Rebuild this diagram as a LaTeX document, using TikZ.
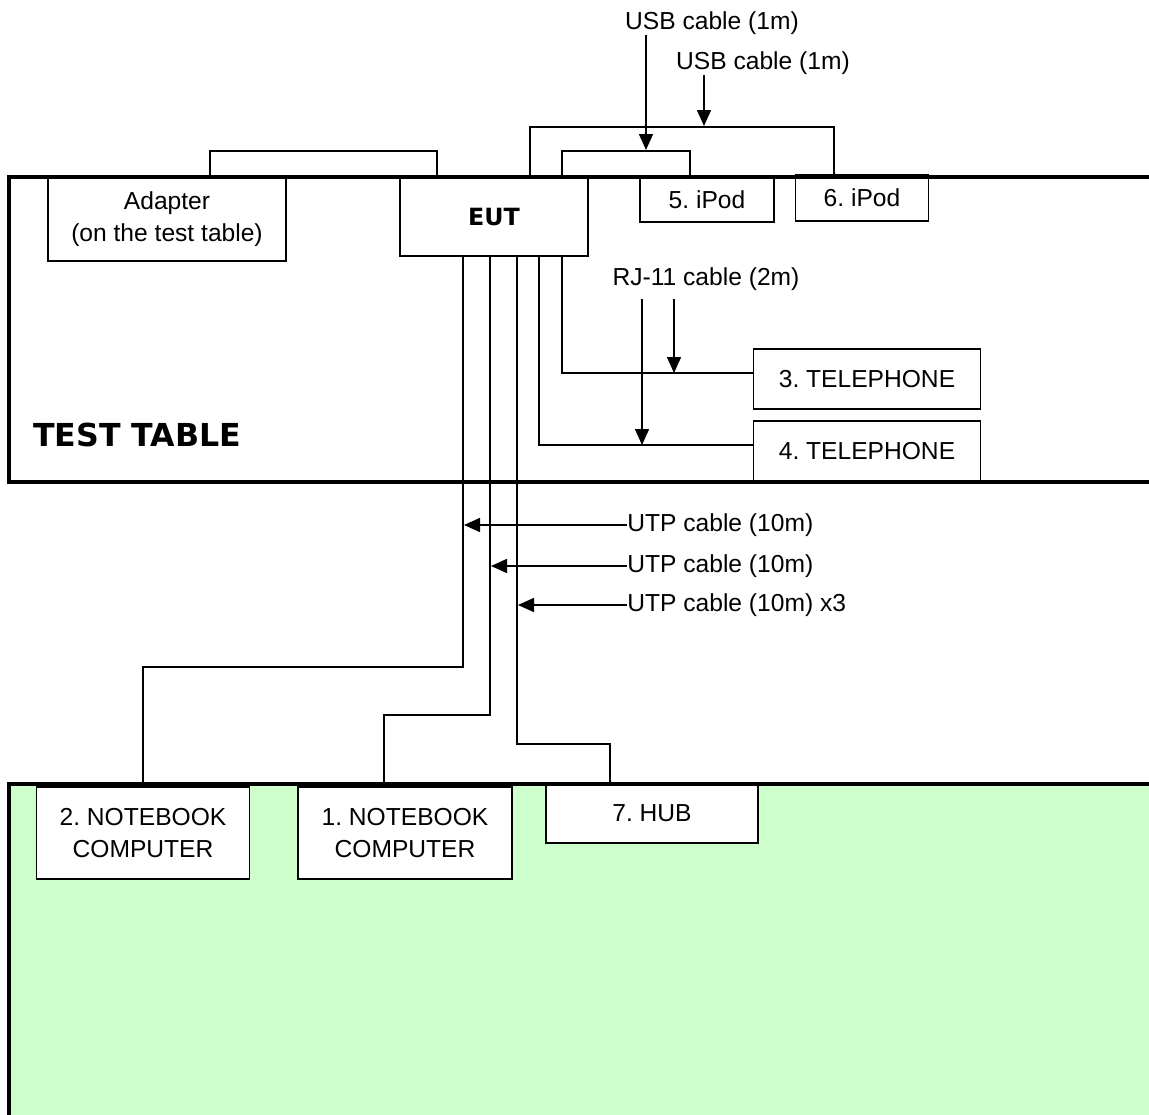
\documentclass[tikz,border=0pt]{standalone}
\usepackage{fontspec}
\setmainfont{Liberation Sans}
\newfontfamily\verdana{DejaVu Sans}
\usetikzlibrary{arrows.meta}
\frenchspacing
\definecolor{tablegreen}{HTML}{CCFFCC}
\tikzstyle{dev}=[draw=black,line width=1pt,fill=white,align=center,inner sep=0pt,font=\fontsize{14}{18}\selectfont]
\tikzstyle{lbl}=[inner sep=0pt,font=\fontsize{14}{18}\selectfont]
\tikzstyle{tbl}=[line width=2.4pt]
\tikzstyle{cable}=[line width=.9pt]
\tikzstyle{arr}=[line width=.9pt,-{Triangle[length=.32cm,width=.28cm]}]

\begin{document}
\begin{tikzpicture}[x=.02cm,y=-.02cm]
\useasboundingbox (0,0) rectangle (1149,1115);
\fill[tablegreen] (9,784) rectangle (1149,1115);
\node[dev,minimum width=4.76cm,minimum height=1.68cm] (adapter) at (167,219) {Adapter\\(on the test table)};
\node[dev,minimum width=3.76cm,minimum height=1.56cm,font=\verdana\bfseries\fontsize{13.5}{16}\selectfont] (eut) at (494,217) {EUT};
\node[dev,minimum width=2.68cm,minimum height=.88cm] (ipod5) at (707,200) {5. iPod};
\node[dev,minimum width=2.66cm,minimum height=.92cm] (ipod6) at (862,198) {6. iPod};
\node[dev,minimum width=4.54cm,minimum height=1.2cm] (tel3) at (867,379) {3. TELEPHONE};
\node[dev,minimum width=4.54cm,minimum height=1.2cm] (tel4) at (867,451) {4. TELEPHONE};
\node[dev,minimum width=4.26cm,minimum height=1.84cm] (nb2) at (143,833) {2. NOTEBOOK\\COMPUTER};
\node[dev,minimum width=4.28cm,minimum height=1.84cm] (nb1) at (405,833) {1. NOTEBOOK\\COMPUTER};
\node[dev,minimum width=4.24cm,minimum height=1.2cm] (hub) at (652,813) {7. HUB};
\draw[tbl] (1149,177) -- (9,177) -- (9,482) -- (1149,482);
\draw[tbl] (9,1115) -- (9,784) -- (1149,784);
\node[anchor=west,inner sep=0pt,font=\verdana\bfseries\fontsize{18}{22}\selectfont] (testtable) at (33,435) {TEST TABLE};
\draw[cable] (adapter.north -| 210,0) -- (210,151) -- (437,151) -- (eut.north -| 437,0);
\draw[cable] (eut.north -| 562,0) -- (562,151) -- (690,151) -- (ipod5.north -| 690,0);
\draw[cable] (eut.north -| 530,0) -- (530,127) -- (834,127) -- (ipod6.north -| 834,0);
\draw[cable] (eut.south -| 562,0) |- ([yshift=.12cm]tel3.west);
\draw[cable] (eut.south -| 539,0) |- ([yshift=.12cm]tel4.west);
\draw[cable] (eut.south -| 463,0) -- (463,667) -| (nb2.north);
\draw[cable] (eut.south -| 490,0) -- (490,715) -| (nb1.north -| 384,0);
\draw[cable] (eut.south -| 517,0) -- (517,744) -| (hub.north -| 610,0);
\node[lbl] (usb5) at (712,23) {USB cable (1m)};
\node[lbl] (usb6) at (763,63) {USB cable (1m)};
\node[lbl] (rj) at (706,279) {RJ-11 cable (2m)};
\node[lbl,anchor=west] (utp2) at (627,525) {UTP cable (10m)};
\node[lbl,anchor=west] (utp1) at (627,566) {UTP cable (10m)};
\node[lbl,anchor=west] (utphub) at (627,605) {UTP cable (10m) x3};
\draw[arr] (usb5.south -| 646,0) -- (646,150);
\draw[arr] (usb6.south -| 704,0) -- (704,126);
\draw[arr,shorten <=.16cm] (rj.south -| 674,0) -- (674,373);
\draw[arr,shorten <=.16cm] (rj.south -| 642,0) -- (642,445);
\draw[arr] (utp2.west) -- (utp2.west -| 464,0);
\draw[arr] (utp1.west) -- (utp1.west -| 491,0);
\draw[arr] (utphub.west) -- (utphub.west -| 518,0);
\end{tikzpicture}
\end{document}
